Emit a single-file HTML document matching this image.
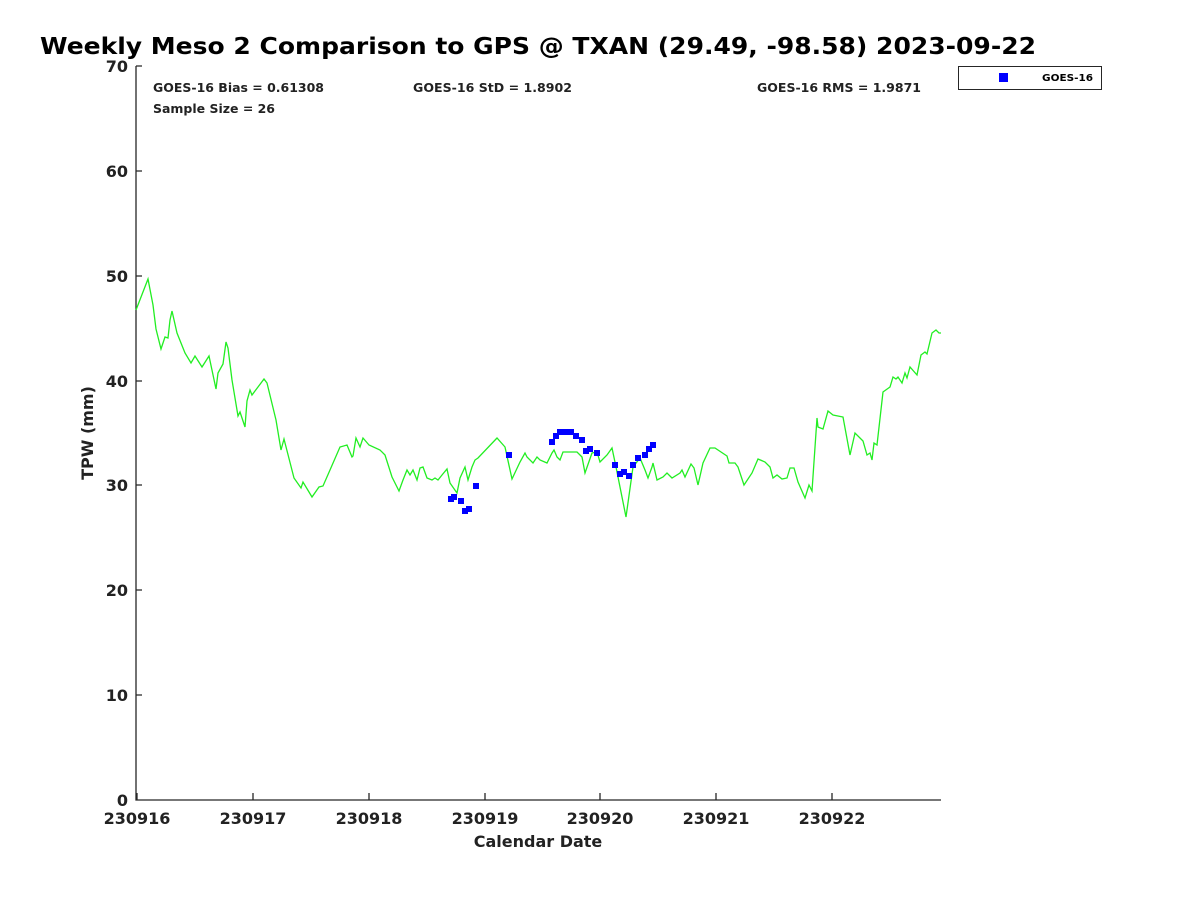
<!DOCTYPE html>
<html><head><style>body{margin:0;background:#fff}svg{display:block}text{font-family:"DejaVu Sans","Liberation Sans",sans-serif;font-weight:bold;fill:#222}</style></head><body>
<svg width="1200" height="900" viewBox="0 0 1200 900" xmlns="http://www.w3.org/2000/svg">
<rect width="1200" height="900" fill="#fff"/>
<text x="40" y="54" font-size="23" fill="#000" style="fill:#000" textLength="996" lengthAdjust="spacingAndGlyphs">Weekly Meso 2 Comparison to GPS @ TXAN (29.49, -98.58) 2023-09-22</text>
<g stroke="#262626" stroke-width="1.3" fill="none">
<path d="M136 66V800H941"/>
<path d="M136 66h6M136 171h6M136 276h6M136 381h6M136 485h6M136 590h6M136 695h6"/>
<path d="M137 800v-7M253 800v-7M369 800v-7M485 800v-7M600 800v-7M716 800v-7M832 800v-7"/>
</g>
<g font-size="16" text-anchor="end">
<text x="128" y="72">70</text><text x="128" y="177">60</text><text x="128" y="282">50</text><text x="128" y="387">40</text><text x="128" y="491">30</text><text x="128" y="596">20</text><text x="128" y="701">10</text><text x="128" y="806">0</text>
</g>
<g font-size="16" text-anchor="middle">
<text x="137" y="824">230916</text><text x="253" y="824">230917</text><text x="369" y="824">230918</text><text x="485" y="824">230919</text><text x="600" y="824">230920</text><text x="716" y="824">230921</text><text x="832" y="824">230922</text>
</g>
<text x="538" y="847" font-size="16" text-anchor="middle">Calendar Date</text>
<text transform="translate(93,433) rotate(-90)" font-size="16" text-anchor="middle">TPW (mm)</text>
<g font-size="12.3" style="fill:#000">
<text x="153" y="92" textLength="171" lengthAdjust="spacingAndGlyphs">GOES-16 Bias = 0.61308</text>
<text x="153" y="113" textLength="122" lengthAdjust="spacingAndGlyphs">Sample Size = 26</text>
<text x="413" y="92" textLength="159" lengthAdjust="spacingAndGlyphs">GOES-16 StD = 1.8902</text>
<text x="757" y="92" textLength="164" lengthAdjust="spacingAndGlyphs">GOES-16 RMS = 1.9871</text>
</g>
<rect x="958.5" y="66.5" width="143" height="23" fill="#fff" stroke="#262626" stroke-width="1"/>
<rect x="999" y="73" width="9" height="9" fill="#0000ff"/>
<text x="1042" y="81" font-size="10" style="fill:#000" textLength="51" lengthAdjust="spacingAndGlyphs">GOES-16</text>
<polyline fill="none" stroke="#22ee22" stroke-width="1.3" points="136,310 148,279 153,305 156,329 161,349 165,337 168,338 170,320 172,311 177,333 185,353 191,363 195,356 202,367 209,356 216,389 218,373 223,364 226,342 228,348 232,380 238,416 240,412 245,427 247,401 250,390 252,395 264,379 267,383 276,420 281,450 284,439 294,478 301,488 303,482 312,497 319,487 323,486 330,470 340,447 347,445 352,457 353,456 356,438 360,447 363,438 369,445 380,450 385,455 392,477 399,491 403,480 407,470 410,475 413,470 417,480 420,468 423,467 427,478 432,480 435,478 438,480 442,475 447,469 450,483 457,493 460,478 465,467 468,480 472,467 475,460 478,458 497,438 505,447 512,479 520,462 525,453 527,457 533,463 537,457 540,460 547,463 552,453 554,450 557,457 560,460 563,452 570,452 577,452 582,457 585,473 592,453 597,452 600,462 607,455 612,448 616,467 626,517 633,467 640,458 645,470 648,478 652,467 653,463 657,480 663,477 667,473 672,478 680,473 682,470 685,477 691,464 694,468 698,485 703,463 710,448 715,448 727,456 729,463 735,463 738,467 744,485 752,473 758,459 765,462 770,467 773,478 777,475 782,479 787,478 790,468 794,468 798,482 805,498 809,485 812,491 817,418 818,427 823,429 828,411 833,415 843,417 850,455 855,433 863,441 867,455 870,453 872,460 874,443 877,445 883,392 890,387 893,377 896,379 898,377 902,383 905,373 907,378 910,367 917,375 921,355 925,352 927,354 932,333 936,330 939,333 941,333"/>
<g fill="#0000ff">
<rect x="448" y="496" width="6" height="6"/><rect x="451" y="494" width="6" height="6"/><rect x="458" y="498" width="6" height="6"/><rect x="462" y="508" width="6" height="6"/><rect x="466" y="506" width="6" height="6"/><rect x="473" y="483" width="6" height="6"/><rect x="506" y="452" width="6" height="6"/><rect x="549" y="439" width="6" height="6"/><rect x="553" y="433" width="6" height="6"/><rect x="557" y="429" width="6" height="6"/><rect x="562" y="429" width="6" height="6"/><rect x="568" y="429" width="6" height="6"/><rect x="573" y="433" width="6" height="6"/><rect x="579" y="437" width="6" height="6"/><rect x="583" y="448" width="6" height="6"/><rect x="587" y="446" width="6" height="6"/><rect x="594" y="450" width="6" height="6"/><rect x="612" y="462" width="6" height="6"/><rect x="617" y="471" width="6" height="6"/><rect x="621" y="469" width="6" height="6"/><rect x="626" y="473" width="6" height="6"/><rect x="630" y="462" width="6" height="6"/><rect x="635" y="455" width="6" height="6"/><rect x="642" y="452" width="6" height="6"/><rect x="646" y="446" width="6" height="6"/><rect x="650" y="442" width="6" height="6"/>
</g>
</svg>
</body></html>
